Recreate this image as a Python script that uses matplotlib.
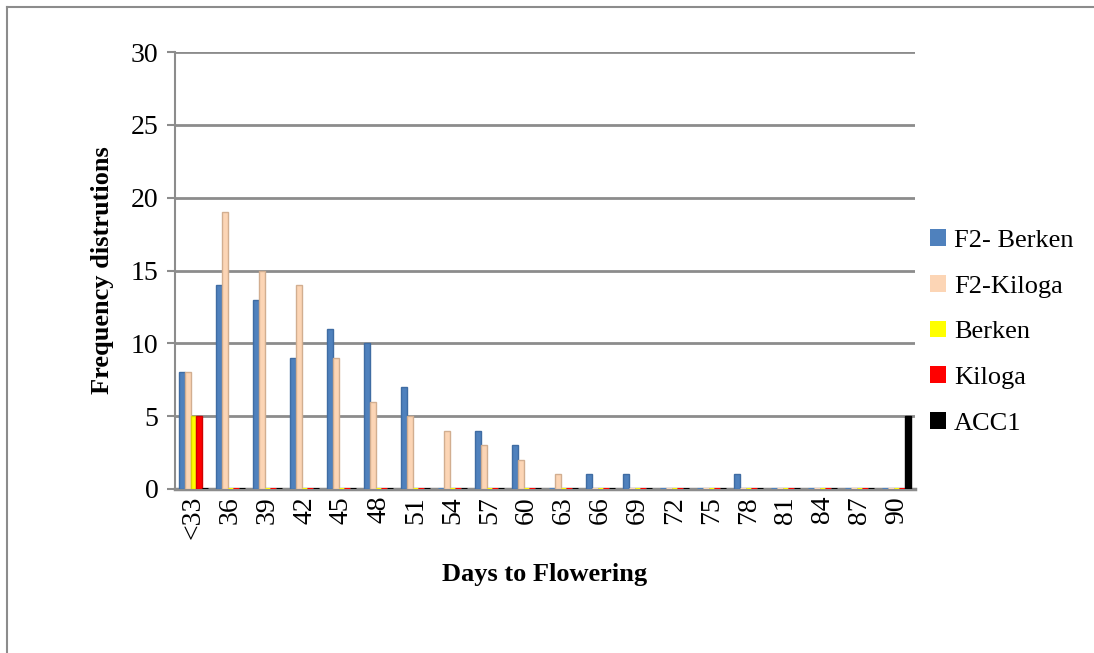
import numpy as np
import matplotlib
matplotlib.use("Agg")
from matplotlib import pyplot as plt
from matplotlib.lines import Line2D

categories = ["<33", "36", "39", "42", "45", "48", "51", "54", "57", "60",
              "63", "66", "69", "72", "75", "78", "81", "84", "87", "90"]

f2_berken = [8, 14, 13, 9, 11, 10, 7, 0, 4, 3, 0, 1, 1, 0, 0, 1, 0, 0, 0, 0]
f2_kiloga = [8, 19, 15, 14, 9, 6, 5, 4, 3, 2, 1, 0, 0, 0, 0, 0, 0, 0, 0, 0]
berken = [5, 0, 0, 0, 0, 0, 0, 0, 0, 0, 0, 0, 0, 0, 0, 0, 0, 0, 0, 0]
kiloga = [5, 0, 0, 0, 0, 0, 0, 0, 0, 0, 0, 0, 0, 0, 0, 0, 0, 0, 0, 0]
acc1 = [0, 0, 0, 0, 0, 0, 0, 0, 0, 0, 0, 0, 0, 0, 0, 0, 0, 0, 0, 5]

series = [
    ("F2- Berken", f2_berken, "#4f81bd", "#3f6ca3"),
    ("F2-Kiloga", f2_kiloga, "#fcd5b5", "#d2ae90"),
    ("Berken", berken, "#ffff00", "#d8d800"),
    ("Kiloga", kiloga, "#ff0000", "#d00000"),
    ("ACC1", acc1, "#000000", "#000000"),
]

plt.rcParams["font.family"] = ["Liberation Serif", "DejaVu Serif"]

fig = plt.figure(figsize=(10.94, 6.53), dpi=100)
ax = fig.add_axes([175 / 1094, 1 - 489 / 653, 740 / 1094, 437 / 653])

x = np.arange(len(categories))
width = 0.16
for k, (name, vals, color, edge) in enumerate(series):
    offs = (k - 2) * width
    # zero values still show as a thin coloured slab on the floor, like Excel 3D
    lws = [1.0 if v > 0 else 2.2 for v in vals]
    ecs = [edge if v > 0 else color for v in vals]
    ax.bar(x + offs, vals, width, color=color, edgecolor=ecs,
           linewidth=lws, label=name, zorder=3)

ax.set_xlim(-0.5, len(categories) - 0.5)
ax.set_ylim(0, 30)
ax.set_yticks(range(0, 31, 5))
ax.set_xticks(x)
ax.set_xticklabels(categories, rotation=90)

ax.yaxis.grid(True, color="#8c8c8c", linewidth=2)
ax.set_axisbelow(True)
for s in ["top", "right"]:
    ax.spines[s].set_visible(False)
ax.spines["left"].set_color("#8c8c8c")
ax.spines["left"].set_linewidth(1.5)
ax.spines["bottom"].set_color("#8c8c8c")
ax.spines["bottom"].set_linewidth(2.5)
ax.tick_params(axis="y", labelsize=20, color="#8c8c8c", length=6, width=1.5, pad=6)
ax.tick_params(axis="x", labelsize=20, length=0, pad=5)

ax.set_ylabel("Frequency distrutions", fontsize=19, fontweight="bold", labelpad=12)
ax.set_xlabel("Days to Flowering", fontsize=19, fontweight="bold", labelpad=17)

leg = fig.legend(loc="center left", bbox_to_anchor=(930 / 1094, 1 - 332 / 653),
                 frameon=False, fontsize=19, handlelength=0.6, handleheight=0.6,
                 handletextpad=0.3, labelspacing=0.87, borderpad=0, borderaxespad=0)
for h in leg.legend_handles:
    h.set_edgecolor("none")

# outer chart frame (only left and top visible)
fig.add_artist(Line2D([7 / 1094, 7 / 1094], [0, 1 - 7 / 653], color="#8c8c8c", lw=1.5))
fig.add_artist(Line2D([7 / 1094, 1093 / 1094], [1 - 7 / 653, 1 - 7 / 653], color="#8c8c8c", lw=1.5))

fig.savefig("out.png", dpi=100)
